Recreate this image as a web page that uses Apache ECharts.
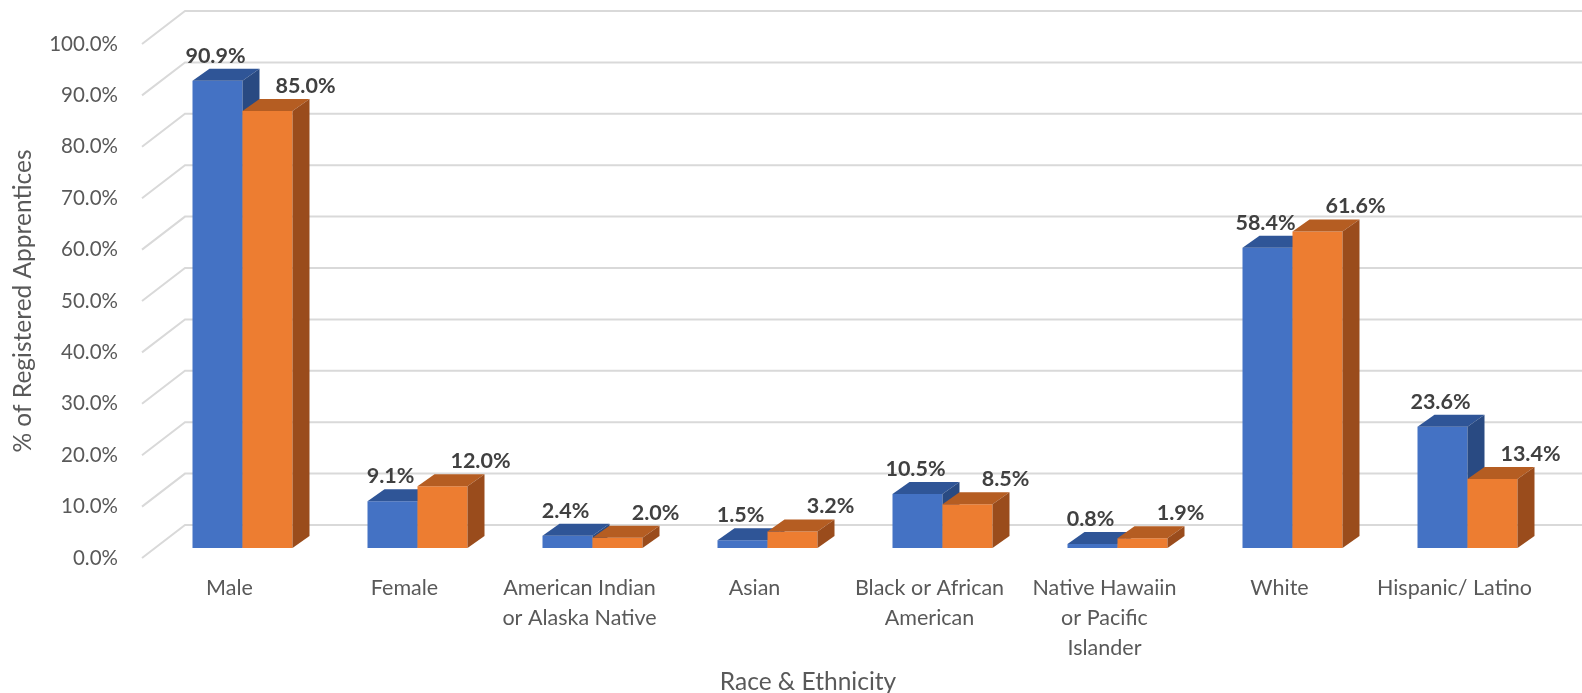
<!DOCTYPE html>
<html>
<head>
<meta charset="utf-8">
<script src="https://cdn.jsdelivr.net/npm/echarts@6/dist/echarts.min.js"></script>
<style>
  html, body { margin: 0; padding: 0; background: #fff; }
  #main { width: 1582px; height: 693px; }
</style>
</head>
<body>
<div id="main"></div>
<script>
// data
const categories = [
  'Male',
  'Female',
  'American Indian\nor Alaska Native',
  'Asian',
  'Black or African\nAmerican',
  'Native Hawaiin\nor Pacific\nIslander',
  'White',
  'Hispanic/ Latino'
]
const seriesBlue = [90.9, 9.1, 2.4, 1.5, 10.5, 0.8, 58.4, 23.6]
const seriesOrange = [85.0, 12.0, 2.0, 3.2, 8.5, 1.9, 61.6, 13.4]
const yTicks = [0, 10, 20, 30, 40, 50, 60, 70, 80, 90, 100]

// fake 3d look
const BAR_W = 50
const DX = 17, DY = -12      // bar depth
const WX = 43, WY = -33      // wall depth
const FONT = 'Lato, "Open Sans", sans-serif'

function barRender (side, faces, labelShift) {
  return function (params, api) {
    const idx = api.value(0)
    const v = api.value(1)
    const top = api.coord([idx, v])
    const base = api.coord([idx, 0])
    const x0 = side === 0 ? top[0] - BAR_W : top[0]
    const x1 = x0 + BAR_W
    const y0 = top[1]
    const y1 = base[1]
    return {
      type: 'group',
      children: [
        { type: 'rect', shape: { x: x0, y: y0, width: BAR_W, height: y1 - y0 }, style: { fill: faces[0] } },
        { type: 'polygon', shape: { points: [[x0, y0], [x0 + DX, y0 + DY], [x1 + DX, y0 + DY], [x1, y0]] }, style: { fill: faces[1] } },
        { type: 'polygon', shape: { points: [[x1, y0], [x1 + DX, y0 + DY], [x1 + DX, y1 + DY], [x1, y1]] }, style: { fill: faces[2] } },
        {
          type: 'text',
          x: (x0 + x1) / 2 + labelShift,
          y: y0 - 25,
          style: {
            text: v.toFixed(1) + '%',
            align: 'center', verticalAlign: 'middle',
            textAlign: 'center', textVerticalAlign: 'middle',
            fontSize: 21.5, fontWeight: 'bold', fontFamily: FONT,
            fill: '#404040'
          }
        }
      ]
    }
  }
}

function gridRender (params, api) {
  const y = api.coord([0, api.value(1)])[1]
  const x = params.coordSys.x
  return {
    type: 'polyline',
    shape: { points: [[x, y], [x + WX, y + WY], [api.getWidth(), y + WY]] },
    style: { stroke: '#d9d9d9', lineWidth: 2, fill: null }
  }
}

const chart = echarts.init(document.getElementById('main'))
chart.setOption({
  animation: false,
  grid: [
    // bar front plane
    { left: 155, top: 34, width: 1400, height: 514 },
    // floor front edge
    { left: 142, top: 44, width: 1400, height: 514 }
  ],
  xAxis: [
    { gridIndex: 0, type: 'category', data: categories, show: false },
    {
      gridIndex: 1,
      type: 'category',
      data: categories,
      axisLine: { show: false },
      axisTick: { show: false },
      axisLabel: { interval: 0, margin: 15, fontSize: 21.5, lineHeight: 30, color: '#595959', fontFamily: FONT }
    }
  ],
  yAxis: [
    { gridIndex: 0, type: 'value', min: 0, max: 100, show: false },
    {
      gridIndex: 1,
      type: 'value',
      min: 0,
      max: 100,
      interval: 10,
      splitLine: { show: false },
      axisLine: { show: false },
      axisTick: { show: false },
      axisLabel: {
        margin: 24,
        fontSize: 20.5,
        color: '#595959',
        fontFamily: FONT,
        formatter: (v) => v.toFixed(1) + '%'
      },
      name: '% of Registered Apprentices',
      nameLocation: 'middle',
      nameGap: 106,
      nameTextStyle: { fontSize: 24.5, color: '#595959', fontFamily: FONT }
    }
  ],
  graphic: [
    {
      type: 'text',
      x: 808,
      y: 682,
      style: {
        text: 'Race & Ethnicity',
        align: 'center', verticalAlign: 'middle',
        textAlign: 'center', textVerticalAlign: 'middle',
        fontSize: 24.5, fontFamily: FONT, fill: '#595959'
      }
    }
  ],
  series: [
    {
      type: 'custom',
      xAxisIndex: 1,
      yAxisIndex: 1,
      silent: true,
      clip: false,
      z: 1,
      renderItem: gridRender,
      data: yTicks.map((t) => [0, t])
    },
    {
      name: 'Series 1',
      type: 'custom',
      xAxisIndex: 0,
      yAxisIndex: 0,
      clip: false,
      z: 2,
      renderItem: barRender(0, ['#4472C4', '#2F5597', '#294A82'], -2),
      data: seriesBlue.map((v, i) => [i, v])
    },
    {
      name: 'Series 2',
      type: 'custom',
      xAxisIndex: 0,
      yAxisIndex: 0,
      clip: false,
      z: 3,
      renderItem: barRender(1, ['#ED7D31', '#B55D22', '#9A4C1C'], 38),
      data: seriesOrange.map((v, i) => [i, v])
    }
  ]
})
</script>
</body>
</html>
